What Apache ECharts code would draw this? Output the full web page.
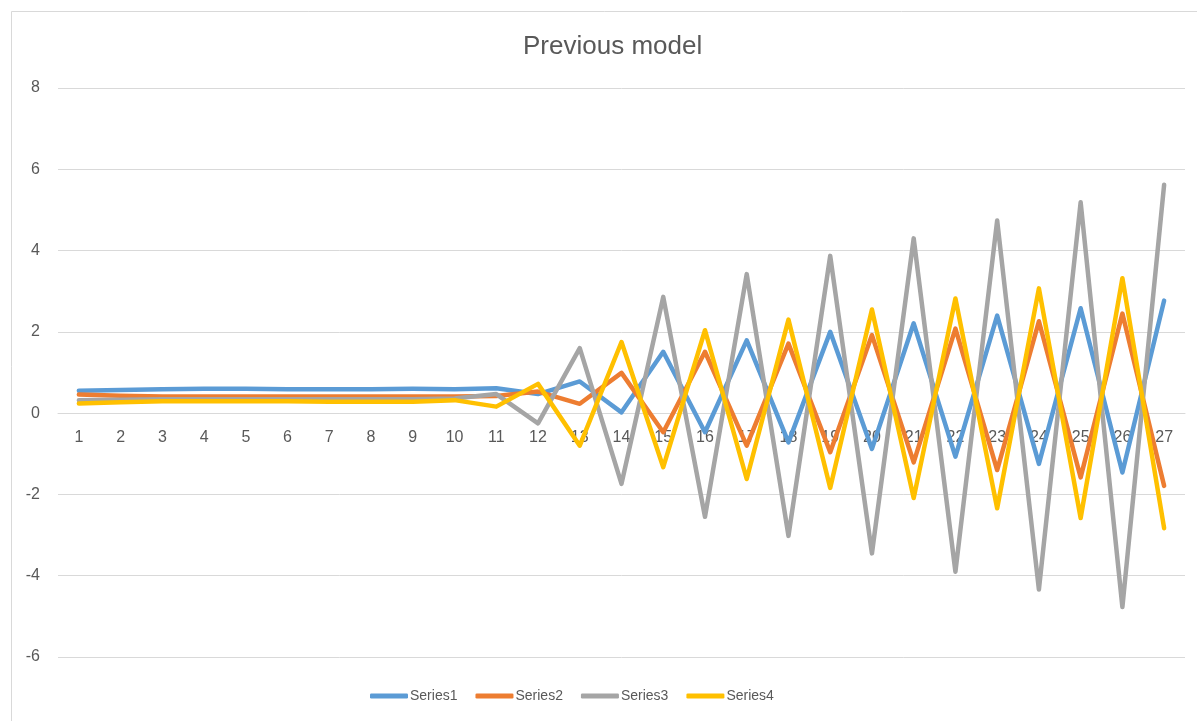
<!DOCTYPE html>
<html>
<head>
<meta charset="utf-8">
<script src="https://cdn.jsdelivr.net/npm/echarts@6/dist/echarts.min.js"></script>
<style>
html,body{margin:0;padding:0;background:#fff;}
#chart{width:1197px;height:721px;}
</style>
</head>
<body>
<div id="chart"></div>
<script>
var categories = ['1','2','3','4','5','6','7','8','9','10','11','12','13','14','15','16','17','18','19','20','21','22','23','24','25','26','27'];
var series1 = [0.55,0.57,0.59,0.60,0.60,0.59,0.59,0.59,0.60,0.59,0.61,0.47,0.78,0.02,1.51,-0.47,1.79,-0.72,2.00,-0.88,2.21,-1.07,2.40,-1.25,2.58,-1.46,2.77];
var series2 = [0.46,0.43,0.41,0.41,0.41,0.41,0.41,0.41,0.41,0.41,0.42,0.53,0.23,0.99,-0.47,1.51,-0.80,1.71,-0.96,1.92,-1.21,2.08,-1.40,2.26,-1.58,2.45,-1.79];
var series3 = [0.32,0.33,0.34,0.34,0.34,0.34,0.34,0.34,0.34,0.36,0.47,-0.25,1.60,-1.74,2.86,-2.55,3.42,-3.02,3.87,-3.45,4.30,-3.90,4.74,-4.34,5.19,-4.77,5.62];
var series4 = [0.24,0.27,0.29,0.29,0.29,0.29,0.28,0.28,0.28,0.32,0.16,0.72,-0.80,1.75,-1.33,2.04,-1.62,2.30,-1.84,2.55,-2.09,2.82,-2.34,3.07,-2.58,3.32,-2.83];
var seriesNames = ['Series1','Series2','Series3','Series4'];
var colors = ['#5B9BD5','#ED7D31','#A5A5A5','#FFC000'];
var titleText = 'Previous model';
var yMin = -6, yMax = 8, yStep = 2;

var font = '"Liberation Sans", Arial, sans-serif';
var gridTop = 88, gridBottom = 64, chartH = 721;
var gridH = chartH - gridTop - gridBottom;
var zeroOffset = -gridH * (0 - yMin) / (yMax - yMin);

var chart = echarts.init(document.getElementById('chart'), null, {renderer:'canvas'});
var allData = [series1, series2, series3, series4];
chart.setOption({
  animation: false,
  backgroundColor: '#ffffff',
  color: colors,
  title: {
    text: titleText,
    left: 518,
    top: 29,
    textStyle: {fontFamily: font, fontSize: 26, fontWeight: 'normal', color: '#595959'}
  },
  graphic: [{
    type: 'rect',
    shape: {x: 11.5, y: 11.5, width: 1300, height: 800},
    style: {fill: 'none', stroke: '#d9d9d9', lineWidth: 1},
    silent: true
  }],
  legend: {
    left: 365,
    top: 684,
    itemWidth: 38,
    itemHeight: 5,
    itemGap: 18,
    icon: 'roundRect',
    textStyle: {fontFamily: font, fontSize: 14, color: '#595959', padding: [0,0,0,-3]},
    data: seriesNames
  },
  grid: {left: 58, right: 12, top: gridTop, bottom: gridBottom, containLabel: false},
  xAxis: {
    type: 'category',
    data: categories,
    boundaryGap: true,
    position: 'bottom',
    offset: zeroOffset,
    axisLine: {show: true, onZero: false, lineStyle: {color: '#d9d9d9', width: 1}},
    axisTick: {show: false},
    axisLabel: {fontFamily: font, fontSize: 16, color: '#595959', margin: 16, interval: 0},
    splitLine: {show: false}
  },
  yAxis: {
    type: 'value',
    min: yMin,
    max: yMax,
    interval: yStep,
    axisLine: {show: false},
    axisTick: {show: false},
    axisLabel: {fontFamily: font, fontSize: 16, color: '#595959', margin: 18},
    splitLine: {show: true, lineStyle: {color: '#d9d9d9', width: 1}}
  },
  series: seriesNames.map(function(n, i){
    return {
      name: n,
      type: 'line',
      data: allData[i],
      symbol: 'none',
      showSymbol: false,
      lineStyle: {width: 4.5, color: colors[i], join: 'round', cap: 'round'},
      itemStyle: {color: colors[i]}
    };
  })
});
</script>
</body>
</html>
